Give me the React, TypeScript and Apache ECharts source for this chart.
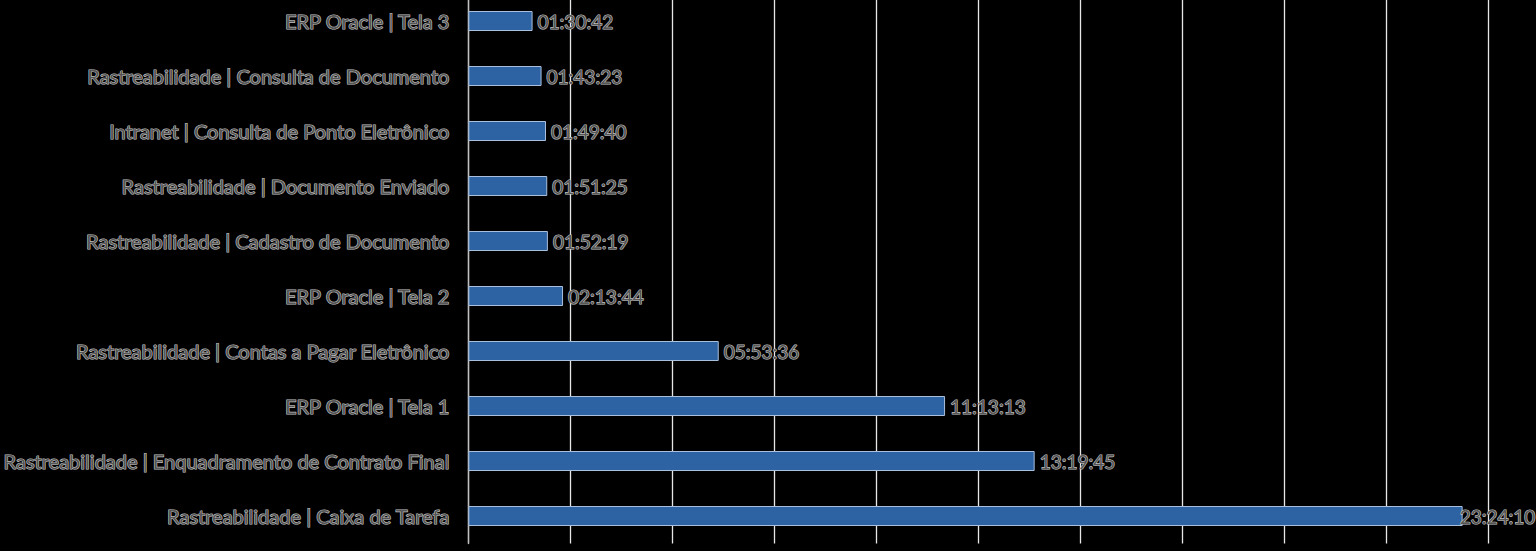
import React, { useEffect, useRef } from "react";
import * as echarts from "echarts";

const categories: string[] = [
  "ERP Oracle | Tela 3",
  "Rastreabilidade | Consulta de Documento",
  "Intranet | Consulta de Ponto Eletrônico",
  "Rastreabilidade | Documento Enviado",
  "Rastreabilidade | Cadastro de Documento",
  "ERP Oracle | Tela 2",
  "Rastreabilidade | Contas a Pagar Eletrônico",
  "ERP Oracle | Tela 1",
  "Rastreabilidade | Enquadramento de Contrato Final",
  "Rastreabilidade | Caixa de Tarefa",
];

const durations: string[] = [
  "01:30:42",
  "01:43:23",
  "01:49:40",
  "01:51:25",
  "01:52:19",
  "02:13:44",
  "05:53:36",
  "11:13:13",
  "13:19:45",
  "23:24:10",
];

const toSeconds = (s: string) => {
  const [h, m, sec] = s.split(":").map(Number);
  return h * 3600 + m * 60 + sec;
};

const pad = (n: number) => String(n).padStart(2, "0");
const fmt = (v: number) =>
  `${pad(Math.floor(v / 3600))}:${pad(Math.floor((v % 3600) / 60))}:${pad(v % 60)}`;

const values: number[] = durations.map(toSeconds);

export default function App() {
  const ref = useRef<HTMLDivElement>(null);
  useEffect(() => {
    document.body.style.margin = "0";
    document.body.style.background = "#000";
    if (!ref.current) return;
    const chart = echarts.init(ref.current, null, { renderer: "svg" });
    const textStyleBase = {
      color: "#555555",
      textBorderColor: "#c4c4c4",
      textBorderWidth: 1.2,
      fontFamily: "Lato",
    };
    const maxVal = 86400;
    chart.setOption({
      animation: false,
      backgroundColor: "#000",
      grid: { left: 467, right: 48, top: 0.5, bottom: 7.5, containLabel: false },
      xAxis: {
        type: "value",
        min: 0,
        max: maxVal,
        interval: 8640,
        axisLabel: { show: false },
        axisTick: { show: false },
        axisLine: { show: false },
        splitLine: { show: true, lineStyle: { color: "#e6e6e6", width: 1.3 } },
      },
      yAxis: {
        type: "category",
        inverse: true,
        data: categories,
        axisTick: { show: false },
        axisLine: { show: true, lineStyle: { color: "#bfbfbf", width: 1.3 } },
        axisLabel: { ...textStyleBase, fontSize: 20, margin: 19 },
      },
      series: [
        {
          type: "bar",
          data: values.map((v) =>
            v > maxVal * 0.95 ? { value: v, label: { offset: [-8, 0] } } : v
          ),
          barWidth: 20,
          itemStyle: { color: "#2d62a3", borderColor: "#a9bfdc", borderWidth: 1 },
          label: {
            show: true,
            position: "right",
            distance: 5,
            ...textStyleBase,
            fontSize: 19,
            formatter: (p: any) => fmt(p.value),
          },
        },
      ],
    });
    return () => chart.dispose();
  }, []);
  return (
    <div
      ref={ref}
      style={{ position: "absolute", left: 0, top: -7, width: 1536, height: 558, background: "#000" }}
    />
  );
}
